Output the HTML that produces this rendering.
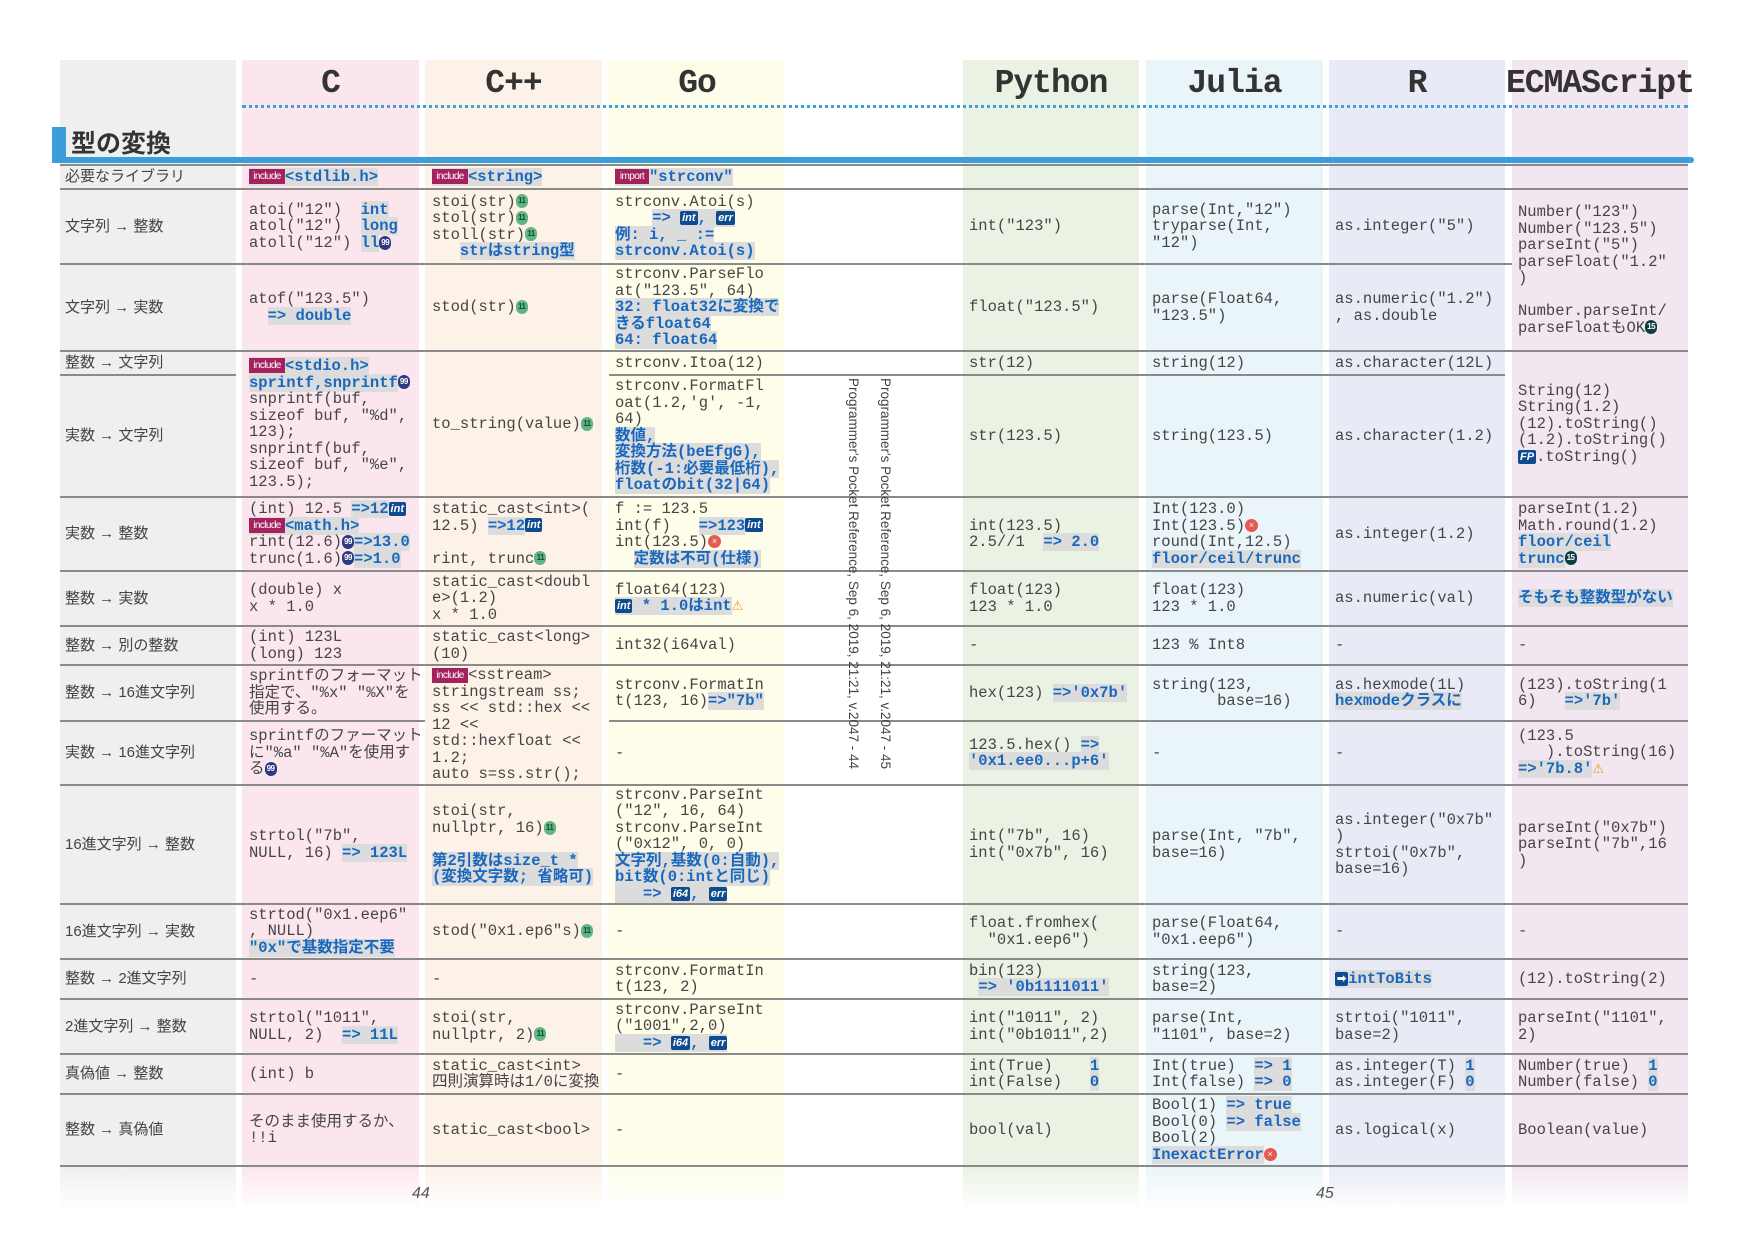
<!DOCTYPE html>
<html><head><meta charset="utf-8">
<style>
*{margin:0;padding:0;box-sizing:border-box}
body{width:1748px;height:1240px;background:#fff;position:relative;overflow:hidden;font-family:"Liberation Mono","Noto Sans CJK JP",monospace;color:#454545}
.col{position:absolute;top:60px;height:1150px}
.hd{position:absolute;top:62px;height:44px;font:bold 33px/44px "Liberation Mono","DejaVu Sans Mono",monospace;color:#333;text-align:center;letter-spacing:-1px}
.ln{position:absolute;height:2px;background:#8a8a8a}
.c{position:absolute;display:flex;align-items:center;font-size:15.5px;line-height:16.5px;width:178px}
.c p{white-space:pre}
.lb{position:absolute;display:flex;align-items:center;font:15px/16px "Liberation Sans","Noto Sans CJK JP",sans-serif;color:#444;left:65px;width:170px}
.h{color:#1a68bd;background:#dcdcdc;font-weight:bold}
.inc{display:inline-block;background:#a3215c;color:#fff;font:10px/15px "Liberation Sans",sans-serif;letter-spacing:-0.6px;width:36px;height:15px;text-align:center;vertical-align:middle;overflow:hidden;font-weight:normal}
.b{display:inline-block;width:12px;height:14px;border-radius:6px;font:bold 8px/14px "Liberation Sans",sans-serif;text-align:center;vertical-align:middle;letter-spacing:-0.5px}
.g{background:#5fb583;color:#1b4a30}
.n{background:#2b3a82;color:#fff}
.t{background:#0e3f40;color:#fff}
.ti{display:inline-block;background:#0f4c8f;color:#fff;font:italic bold 11px/14px "Liberation Sans",sans-serif;padding:0 2px;border-radius:2px;vertical-align:middle}
.x{display:inline-block;width:13px;height:13px;border-radius:7px;background:#e45a50;color:#fff;font:9px/13px sans-serif;text-align:center;vertical-align:middle}
.w{color:#f19a2b;font-size:13px;font-family:"DejaVu Sans",sans-serif}
.vt{position:absolute;top:378px;writing-mode:vertical-rl;font:13.5px "Liberation Sans",sans-serif;color:#444;white-space:nowrap}
</style></head><body>
<div class="col" style="left:60px;width:176px;background:linear-gradient(#efefef 0,#efefef 1106px,#fff 1150px)"></div>
<div class="col" style="left:242px;width:177px;background:linear-gradient(#fce6ee 0,#fce6ee 1106px,#fff 1150px)"></div>
<div class="col" style="left:425px;width:177px;background:linear-gradient(#fdf2e8 0,#fdf2e8 1106px,#fff 1150px)"></div>
<div class="col" style="left:609px;width:176px;background:linear-gradient(#fdfdea 0,#fdfdea 1106px,#fff 1150px)"></div>
<div class="col" style="left:963px;width:176px;background:linear-gradient(#e9f2e3 0,#e9f2e3 1106px,#fff 1150px)"></div>
<div class="col" style="left:1146px;width:177px;background:linear-gradient(#e9f5f9 0,#e9f5f9 1106px,#fff 1150px)"></div>
<div class="col" style="left:1329px;width:176px;background:linear-gradient(#e8eaf5 0,#e8eaf5 1106px,#fff 1150px)"></div>
<div class="col" style="left:1512px;width:176px;background:linear-gradient(#f2e6f1 0,#f2e6f1 1106px,#fff 1150px)"></div>

<div class="hd" style="left:242px;width:177px">C</div>
<div class="hd" style="left:425px;width:177px">C++</div>
<div class="hd" style="left:609px;width:176px">Go</div>
<div class="hd" style="left:963px;width:176px">Python</div>
<div class="hd" style="left:1146px;width:177px">Julia</div>
<div class="hd" style="left:1329px;width:176px">R</div>
<div class="hd" style="left:1500px;width:200px">ECMAScript</div>
<div style="position:absolute;left:242px;top:105px;width:1446px;border-top:3px dotted #3aa3de"></div>

<div style="position:absolute;left:52px;top:127px;width:14px;height:35px;background:#3a9edb"></div>
<div style="position:absolute;left:71px;top:126px;font:bold 25px/32px 'Noto Sans CJK JP',sans-serif;color:#333">型の変換</div>
<div style="position:absolute;left:52px;top:157px;width:1642px;height:6px;background:#3a9edb;border-radius:0 3px 3px 0"></div>

<div class="ln" style="left:60px;top:164px;width:1628px"></div>
<div class="ln" style="left:60px;top:188px;width:1628px"></div>
<div class="ln" style="left:60px;top:263px;width:1452px"></div>
<div class="ln" style="left:60px;top:350px;width:1628px"></div>
<div class="ln" style="left:60px;top:374px;width:176px"></div>
<div class="ln" style="left:609px;top:374px;width:896px"></div>
<div class="ln" style="left:60px;top:496px;width:1628px"></div>
<div class="ln" style="left:60px;top:570px;width:1628px"></div>
<div class="ln" style="left:60px;top:625px;width:1628px"></div>
<div class="ln" style="left:60px;top:664px;width:1628px"></div>
<div class="ln" style="left:60px;top:720px;width:365px"></div>
<div class="ln" style="left:609px;top:720px;width:1079px"></div>
<div class="ln" style="left:60px;top:784px;width:1628px"></div>
<div class="ln" style="left:60px;top:903px;width:1628px"></div>
<div class="ln" style="left:60px;top:958px;width:1628px"></div>
<div class="ln" style="left:60px;top:998px;width:1628px"></div>
<div class="ln" style="left:60px;top:1053px;width:1628px"></div>
<div class="ln" style="left:60px;top:1093px;width:1628px"></div>
<div class="ln" style="left:60px;top:1165px;width:1628px"></div>

<div class="lb" style="top:166px;height:22px">必要なライブラリ</div>
<div class="lb" style="top:190px;height:73px">文字列 → 整数</div>
<div class="lb" style="top:265px;height:85px">文字列 → 実数</div>
<div class="lb" style="top:352px;height:22px">整数 → 文字列</div>
<div class="lb" style="top:376px;height:120px">実数 → 文字列</div>
<div class="lb" style="top:498px;height:72px">実数 → 整数</div>
<div class="lb" style="top:572px;height:53px">整数 → 実数</div>
<div class="lb" style="top:627px;height:37px">整数 → 別の整数</div>
<div class="lb" style="top:666px;height:54px">整数 → 16進文字列</div>
<div class="lb" style="top:722px;height:62px">実数 → 16進文字列</div>
<div class="lb" style="top:786px;height:117px">16進文字列 → 整数</div>
<div class="lb" style="top:905px;height:53px">16進文字列 → 実数</div>
<div class="lb" style="top:960px;height:38px">整数 → 2進文字列</div>
<div class="lb" style="top:1000px;height:53px">2進文字列 → 整数</div>
<div class="lb" style="top:1055px;height:38px">真偽値 → 整数</div>
<div class="lb" style="top:1095px;height:70px">整数 → 真偽値</div>

<!-- C -->
<div class="c" style="left:249px;top:166px;height:22px"><p><span class="h"><span class="inc">include</span>&lt;stdlib.h&gt;</span></p></div>
<div class="c" style="left:249px;top:190px;height:73px"><p>atoi("12")  <span class="h">int</span>
atol("12")  <span class="h">long</span>
atoll("12") <span class="h">ll</span><span class="b n">99</span></p></div>
<div class="c" style="left:249px;top:265px;height:85px"><p>atof("123.5")
  <span class="h">=&gt; double</span></p></div>
<div class="c" style="left:249px;top:352px;height:144px"><p><span class="h"><span class="inc">include</span>&lt;stdio.h&gt;</span>
<span class="h">sprintf,snprintf</span><span class="b n">99</span>
snprintf(buf,
sizeof buf, "%d",
123);
snprintf(buf,
sizeof buf, "%e",
123.5);</p></div>
<div class="c" style="left:249px;top:498px;height:72px"><p>(int) 12.5 <span class="h">=&gt;12</span><span class="ti">int</span>
<span class="h"><span class="inc">include</span>&lt;math.h&gt;</span>
rint(12.6)<span class="b n">99</span><span class="h">=&gt;13.0</span>
trunc(1.6)<span class="b n">99</span><span class="h">=&gt;1.0</span></p></div>
<div class="c" style="left:249px;top:572px;height:53px"><p>(double) x
x * 1.0</p></div>
<div class="c" style="left:249px;top:627px;height:37px"><p>(int) 123L
(long) 123</p></div>
<div class="c" style="left:249px;top:666px;height:54px"><p>sprintfのフォーマット
指定で、"%x" "%X"を
使用する。</p></div>
<div class="c" style="left:249px;top:722px;height:62px"><p>sprintfのファーマット
に"%a" "%A"を使用す
る<span class="b n">99</span></p></div>
<div class="c" style="left:249px;top:786px;height:117px"><p>strtol("7b",
NULL, 16) <span class="h">=&gt; 123L</span></p></div>
<div class="c" style="left:249px;top:905px;height:53px"><p>strtod("0x1.eep6"
, NULL)
<span class="h">"0x"で基数指定不要</span></p></div>
<div class="c" style="left:249px;top:960px;height:38px"><p>-</p></div>
<div class="c" style="left:249px;top:1000px;height:53px"><p>strtol("1011",
NULL, 2)  <span class="h">=&gt; 11L</span></p></div>
<div class="c" style="left:249px;top:1055px;height:38px"><p>(int) b</p></div>
<div class="c" style="left:249px;top:1095px;height:70px"><p>そのまま使用するか、
!!i</p></div>

<!-- C++ -->
<div class="c" style="left:432px;top:166px;height:22px"><p><span class="h"><span class="inc">include</span>&lt;string&gt;</span></p></div>
<div class="c" style="left:432px;top:190px;height:73px"><p>stoi(str)<span class="b g">11</span>
stol(str)<span class="b g">11</span>
stoll(str)<span class="b g">11</span>
   <span class="h">strはstring型</span></p></div>
<div class="c" style="left:432px;top:265px;height:85px"><p>stod(str)<span class="b g">11</span></p></div>
<div class="c" style="left:432px;top:352px;height:144px"><p>to_string(value)<span class="b g">11</span></p></div>
<div class="c" style="left:432px;top:498px;height:72px"><p>static_cast&lt;int&gt;(
12.5) <span class="h">=&gt;12</span><span class="ti">int</span>

rint, trunc<span class="b g">11</span></p></div>
<div class="c" style="left:432px;top:572px;height:53px"><p>static_cast&lt;doubl
e&gt;(1.2)
x * 1.0</p></div>
<div class="c" style="left:432px;top:627px;height:37px"><p>static_cast&lt;long&gt;
(10)</p></div>
<div class="c" style="left:432px;top:666px;height:118px"><p><span class="inc">include</span>&lt;sstream&gt;
stringstream ss;
ss &lt;&lt; std::hex &lt;&lt;
12 &lt;&lt;
std::hexfloat &lt;&lt;
1.2;
auto s=ss.str();</p></div>
<div class="c" style="left:432px;top:786px;height:117px"><p>stoi(str,
nullptr, 16)<span class="b g">11</span>

<span class="h">第2引数はsize_t *</span>
<span class="h">(変換文字数; 省略可)</span></p></div>
<div class="c" style="left:432px;top:905px;height:53px"><p>stod("0x1.ep6"s)<span class="b g">11</span></p></div>
<div class="c" style="left:432px;top:960px;height:38px"><p>-</p></div>
<div class="c" style="left:432px;top:1000px;height:53px"><p>stoi(str,
nullptr, 2)<span class="b g">11</span></p></div>
<div class="c" style="left:432px;top:1055px;height:38px"><p>static_cast&lt;int&gt;
四則演算時は1/0に変換</p></div>
<div class="c" style="left:432px;top:1095px;height:70px"><p>static_cast&lt;bool&gt;</p></div>

<!-- Go -->
<div class="c" style="left:615px;top:166px;height:22px"><p><span class="h"><span class="inc" style="width:34px">import</span>"strconv"</span></p></div>
<div class="c" style="left:615px;top:190px;height:73px"><p>strconv.Atoi(s)
    <span class="h">=&gt; <span class="ti">int</span>, <span class="ti">err</span></span>
<span class="h">例: i, _ :=</span>
<span class="h">strconv.Atoi(s)</span></p></div>
<div class="c" style="left:615px;top:265px;height:85px"><p>strconv.ParseFlo
at("123.5", 64)
<span class="h">32: float32に変換で</span>
<span class="h">きるfloat64</span>
<span class="h">64: float64</span></p></div>
<div class="c" style="left:615px;top:352px;height:22px"><p>strconv.Itoa(12)</p></div>
<div class="c" style="left:615px;top:376px;height:120px"><p>strconv.FormatFl
oat(1.2,'g', -1,
64)
<span class="h">数値,</span>
<span class="h">変換方法(beEfgG),</span>
<span class="h">桁数(-1:必要最低桁),</span>
<span class="h">floatのbit(32|64)</span></p></div>
<div class="c" style="left:615px;top:498px;height:72px"><p>f := 123.5
int(f)   <span class="h">=&gt;123</span><span class="ti">int</span>
int(123.5)<span class="x">×</span>
  <span class="h">定数は不可(仕様)</span></p></div>
<div class="c" style="left:615px;top:572px;height:53px"><p>float64(123)
<span class="h"><span class="ti">int</span> * 1.0はint</span><span class="w">⚠</span></p></div>
<div class="c" style="left:615px;top:627px;height:37px"><p>int32(i64val)</p></div>
<div class="c" style="left:615px;top:666px;height:54px"><p>strconv.FormatIn
t(123, 16)<span class="h">=&gt;"7b"</span></p></div>
<div class="c" style="left:615px;top:722px;height:62px"><p>-</p></div>
<div class="c" style="left:615px;top:786px;height:117px"><p>strconv.ParseInt
("12", 16, 64)
strconv.ParseInt
("0x12", 0, 0)
<span class="h">文字列,基数(0:自動),</span>
<span class="h">bit数(0:intと同じ)</span>
<span class="h">   =&gt; <span class="ti">i64</span>, <span class="ti">err</span></span></p></div>
<div class="c" style="left:615px;top:905px;height:53px"><p>-</p></div>
<div class="c" style="left:615px;top:960px;height:38px"><p>strconv.FormatIn
t(123, 2)</p></div>
<div class="c" style="left:615px;top:1000px;height:53px"><p>strconv.ParseInt
("1001",2,0)
<span class="h">   =&gt; <span class="ti">i64</span>, <span class="ti">err</span></span></p></div>
<div class="c" style="left:615px;top:1055px;height:38px"><p>-</p></div>
<div class="c" style="left:615px;top:1095px;height:70px"><p>-</p></div>

<div class="vt" style="left:846px">Programmer's Pocket Reference, Sep 6, 2019, 21:21, v.2047 - 44</div>
<div class="vt" style="left:878px">Programmer's Pocket Reference, Sep 6, 2019, 21:21, v.2047 - 45</div>

<!-- Python -->
<div class="c" style="left:969px;top:190px;height:73px"><p>int("123")</p></div>
<div class="c" style="left:969px;top:265px;height:85px"><p>float("123.5")</p></div>
<div class="c" style="left:969px;top:352px;height:22px"><p>str(12)</p></div>
<div class="c" style="left:969px;top:376px;height:120px"><p>str(123.5)</p></div>
<div class="c" style="left:969px;top:498px;height:72px"><p>int(123.5)
2.5//1  <span class="h">=&gt; 2.0</span></p></div>
<div class="c" style="left:969px;top:572px;height:53px"><p>float(123)
123 * 1.0</p></div>
<div class="c" style="left:969px;top:627px;height:37px"><p>-</p></div>
<div class="c" style="left:969px;top:666px;height:54px"><p>hex(123) <span class="h">=&gt;'0x7b'</span></p></div>
<div class="c" style="left:969px;top:722px;height:62px"><p>123.5.hex() <span class="h">=&gt;</span>
<span class="h">'0x1.ee0...p+6'</span></p></div>
<div class="c" style="left:969px;top:786px;height:117px"><p>int("7b", 16)
int("0x7b", 16)</p></div>
<div class="c" style="left:969px;top:905px;height:53px"><p>float.fromhex(
  "0x1.eep6")</p></div>
<div class="c" style="left:969px;top:960px;height:38px"><p>bin(123)
 <span class="h">=&gt; '0b1111011'</span></p></div>
<div class="c" style="left:969px;top:1000px;height:53px"><p>int("1011", 2)
int("0b1011",2)</p></div>
<div class="c" style="left:969px;top:1055px;height:38px"><p>int(True)    <span class="h">1</span>
int(False)   <span class="h">0</span></p></div>
<div class="c" style="left:969px;top:1095px;height:70px"><p>bool(val)</p></div>

<!-- Julia -->
<div class="c" style="left:1152px;top:190px;height:73px"><p>parse(Int,"12")
tryparse(Int,
"12")</p></div>
<div class="c" style="left:1152px;top:265px;height:85px"><p>parse(Float64,
"123.5")</p></div>
<div class="c" style="left:1152px;top:352px;height:22px"><p>string(12)</p></div>
<div class="c" style="left:1152px;top:376px;height:120px"><p>string(123.5)</p></div>
<div class="c" style="left:1152px;top:498px;height:72px"><p>Int(123.0)
Int(123.5)<span class="x">×</span>
round(Int,12.5)
<span class="h">floor/ceil/trunc</span></p></div>
<div class="c" style="left:1152px;top:572px;height:53px"><p>float(123)
123 * 1.0</p></div>
<div class="c" style="left:1152px;top:627px;height:37px"><p>123 % Int8</p></div>
<div class="c" style="left:1152px;top:666px;height:54px"><p>string(123,
       base=16)</p></div>
<div class="c" style="left:1152px;top:722px;height:62px"><p>-</p></div>
<div class="c" style="left:1152px;top:786px;height:117px"><p>parse(Int, "7b",
base=16)</p></div>
<div class="c" style="left:1152px;top:905px;height:53px"><p>parse(Float64,
"0x1.eep6")</p></div>
<div class="c" style="left:1152px;top:960px;height:38px"><p>string(123,
base=2)</p></div>
<div class="c" style="left:1152px;top:1000px;height:53px"><p>parse(Int,
"1101", base=2)</p></div>
<div class="c" style="left:1152px;top:1055px;height:38px"><p>Int(true)  <span class="h">=&gt; 1</span>
Int(false) <span class="h">=&gt; 0</span></p></div>
<div class="c" style="left:1152px;top:1095px;height:70px"><p>Bool(1) <span class="h">=&gt; true</span>
Bool(0) <span class="h">=&gt; false</span>
Bool(2)
<span class="h">InexactError</span><span class="x">×</span></p></div>

<!-- R -->
<div class="c" style="left:1335px;top:190px;height:73px"><p>as.integer("5")</p></div>
<div class="c" style="left:1335px;top:265px;height:85px"><p>as.numeric("1.2")
, as.double</p></div>
<div class="c" style="left:1335px;top:352px;height:22px"><p>as.character(12L)</p></div>
<div class="c" style="left:1335px;top:376px;height:120px"><p>as.character(1.2)</p></div>
<div class="c" style="left:1335px;top:498px;height:72px"><p>as.integer(1.2)</p></div>
<div class="c" style="left:1335px;top:572px;height:53px"><p>as.numeric(val)</p></div>
<div class="c" style="left:1335px;top:627px;height:37px"><p>-</p></div>
<div class="c" style="left:1335px;top:666px;height:54px"><p>as.hexmode(1L)
<span class="h">hexmodeクラスに</span></p></div>
<div class="c" style="left:1335px;top:722px;height:62px"><p>-</p></div>
<div class="c" style="left:1335px;top:786px;height:117px"><p>as.integer("0x7b"
)
strtoi("0x7b",
base=16)</p></div>
<div class="c" style="left:1335px;top:905px;height:53px"><p>-</p></div>
<div class="c" style="left:1335px;top:960px;height:38px"><p><span class="h"><span class="ti" style="font-style:normal">➡</span>intToBits</span></p></div>
<div class="c" style="left:1335px;top:1000px;height:53px"><p>strtoi("1011",
base=2)</p></div>
<div class="c" style="left:1335px;top:1055px;height:38px"><p>as.integer(T) <span class="h">1</span>
as.integer(F) <span class="h">0</span></p></div>
<div class="c" style="left:1335px;top:1095px;height:70px"><p>as.logical(x)</p></div>

<!-- ECMAScript -->
<div class="c" style="left:1518px;top:190px;height:160px"><p>Number("123")
Number("123.5")
parseInt("5")
parseFloat("1.2"
)

Number.parseInt/
parseFloatもOK<span class="b t">15</span></p></div>
<div class="c" style="left:1518px;top:352px;height:144px"><p>String(12)
String(1.2)
(12).toString()
(1.2).toString()
<span class="ti">FP</span>.toString()</p></div>
<div class="c" style="left:1518px;top:498px;height:72px"><p>parseInt(1.2)
Math.round(1.2)
<span class="h">floor/ceil</span>
<span class="h">trunc</span><span class="b t">15</span></p></div>
<div class="c" style="left:1518px;top:572px;height:53px"><p><span class="h">そもそも整数型がない</span></p></div>
<div class="c" style="left:1518px;top:627px;height:37px"><p>-</p></div>
<div class="c" style="left:1518px;top:666px;height:54px"><p>(123).toString(1
6)   <span class="h">=&gt;'7b'</span></p></div>
<div class="c" style="left:1518px;top:722px;height:62px"><p>(123.5
   ).toString(16)
<span class="h">=&gt;'7b.8'</span><span class="w">⚠</span></p></div>
<div class="c" style="left:1518px;top:786px;height:117px"><p>parseInt("0x7b")
parseInt("7b",16
)</p></div>
<div class="c" style="left:1518px;top:905px;height:53px"><p>-</p></div>
<div class="c" style="left:1518px;top:960px;height:38px"><p>(12).toString(2)</p></div>
<div class="c" style="left:1518px;top:1000px;height:53px"><p>parseInt("1101",
2)</p></div>
<div class="c" style="left:1518px;top:1055px;height:38px"><p>Number(true)  <span class="h">1</span>
Number(false) <span class="h">0</span></p></div>
<div class="c" style="left:1518px;top:1095px;height:70px"><p>Boolean(value)</p></div>

<div style="position:absolute;left:412px;top:1185px;font:italic 16px 'Liberation Sans',sans-serif;color:#555">44</div>
<div style="position:absolute;left:1316px;top:1185px;font:italic 16px 'Liberation Sans',sans-serif;color:#555">45</div>
</body></html>
